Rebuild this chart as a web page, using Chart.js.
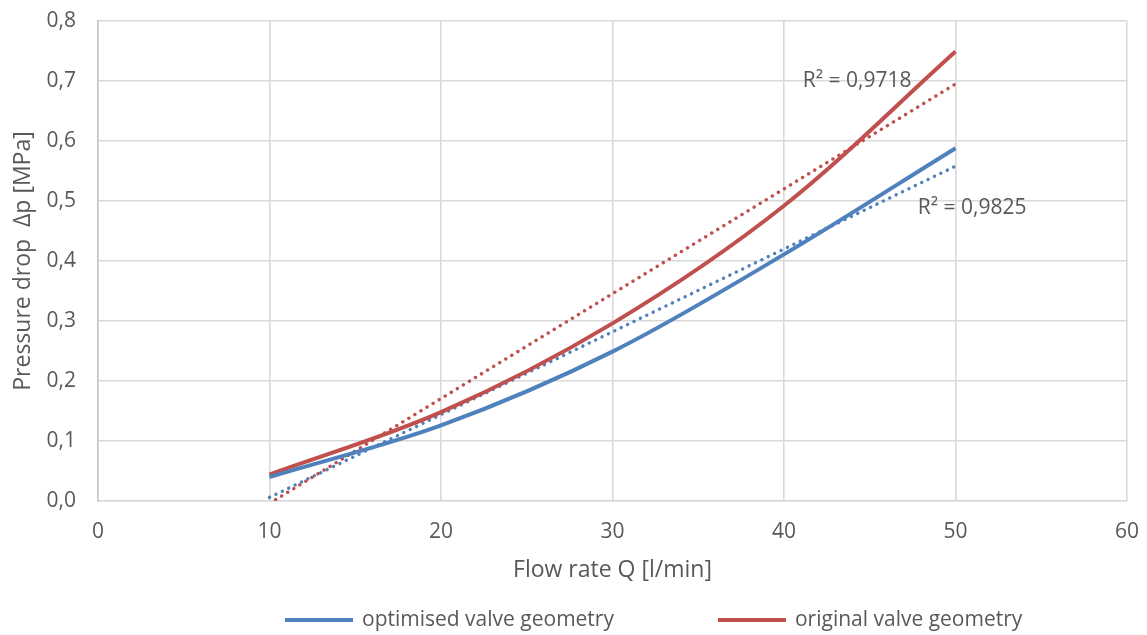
<!DOCTYPE html>
<html>
<head>
<meta charset="utf-8">
<script src="https://cdn.jsdelivr.net/npm/chart.js@4.4.0/dist/chart.umd.min.js"></script>
<style>
  html, body { margin: 0; padding: 0; background: #fff; }
  #wrap { width: 1147px; height: 635px; }
</style>
</head>
<body>
<div id="wrap"><canvas id="pressure-chart" width="1147" height="635"></canvas></div>
<script>
// values
const flowRate = [10, 20, 30, 40, 50];
const optimised = [0.040, 0.126, 0.249, 0.411, 0.588];
const original = [0.044, 0.148, 0.296, 0.492, 0.749];

// linear trendlines (end points)
const trendFlow = [10, 50];
const optimisedTrend = [0.006, 0.558];
const originalTrend = [-0.004, 0.695];

const seriesNames = ['optimised valve geometry', 'original valve geometry'];
const r2Labels = ['R² = 0,9825', 'R² = 0,9718'];
const xTicks = [0, 10, 20, 30, 40, 50, 60];

const BLUE = '#4F81BD';
const RED = '#C0504D';
const GREY = '#595959';
const FONT = '"Open Sans", sans-serif';

const pts = (xs, ys) => xs.map((x, i) => ({ x: x, y: ys[i] }));

// R² text next to the trendlines
const r2Plugin = {
    id: 'r2text',
    afterDatasetsDraw(chart) {
        const { ctx, scales } = chart;
        ctx.save();
        ctx.font = '21px ' + FONT;
        ctx.fillStyle = GREY;
        ctx.textBaseline = 'middle';
        ctx.textAlign = 'left';
        ctx.fillText(r2Labels[1], scales.x.getPixelForValue(41.1), scales.y.getPixelForValue(0.70));
        ctx.fillText(r2Labels[0], scales.x.getPixelForValue(47.8), scales.y.getPixelForValue(0.489));
        ctx.restore();
    }
};

// legend drawn by hand so the gap between the two entries can be wide
const legendPlugin = {
    id: 'wideLegend',
    afterDraw(chart) {
        const ctx = chart.ctx;
        const y = chart.height - 15;
        let x = 285;
        ctx.save();
        ctx.font = '21px ' + FONT;
        ctx.textBaseline = 'middle';
        ctx.textAlign = 'left';
        chart.data.datasets.slice(0, 2).forEach(ds => {
            ctx.strokeStyle = ds.borderColor;
            ctx.lineWidth = 4;
            ctx.beginPath();
            ctx.moveTo(x, y);
            ctx.lineTo(x + 68, y);
            ctx.stroke();
            x += 77;
            ctx.fillStyle = GREY;
            ctx.fillText(ds.label, x, y);
            x += ctx.measureText(ds.label).width + 104;
        });
        ctx.restore();
    }
};

const ctx = document.getElementById('pressure-chart').getContext('2d');
const pressureChart = new Chart(ctx, {
    type: 'line',
    data: {
        datasets: [
            {
                label: seriesNames[0],
                data: pts(flowRate, optimised),
                borderColor: BLUE,
                backgroundColor: BLUE,
                borderWidth: 4,
                pointRadius: 0,
                tension: 0.33
            },
            {
                label: seriesNames[1],
                data: pts(flowRate, original),
                borderColor: RED,
                backgroundColor: RED,
                borderWidth: 4,
                pointRadius: 0,
                tension: 0.33
            },
            {
                label: 'trend1',
                data: pts(trendFlow, optimisedTrend),
                borderColor: BLUE,
                borderWidth: 3.4,
                borderDash: [0.1, 7],
                borderCapStyle: 'round',
                pointRadius: 0
            },
            {
                label: 'trend2',
                data: pts(trendFlow, originalTrend),
                borderColor: RED,
                borderWidth: 3.4,
                borderDash: [0.1, 7],
                borderCapStyle: 'round',
                pointRadius: 0
            }
        ]
    },
    options: {
        responsive: false,
        animation: false,
        layout: { padding: { top: 21, right: 20, left: 10, bottom: 51 } },
        scales: {
            x: {
                type: 'linear',
                min: 0,
                max: 60,
                afterBuildTicks: axis => { axis.ticks = xTicks.map(v => ({ value: v })); },
                afterFit: axis => {
                    axis.height = 83;
                    axis.paddingLeft = 0;
                    axis.paddingRight = 0;
                },
                grid: { color: '#D9D9D9', lineWidth: 1.6, drawTicks: false },
                border: { color: '#D9D9D9', width: 1.6 },
                ticks: { color: GREY, font: { family: FONT, size: 21 }, padding: 18 },
                title: {
                    display: true,
                    text: 'Flow rate Q [l/min]',
                    color: GREY,
                    font: { family: FONT, size: 23 },
                    padding: { top: 12, bottom: 0 }
                }
            },
            y: {
                min: 0,
                max: 0.8,
                afterFit: axis => {
                    axis.width = 88;
                    axis.paddingTop = 0;
                    axis.paddingBottom = 0;
                },
                ticks: {
                    stepSize: 0.1,
                    color: GREY,
                    font: { family: FONT, size: 21 },
                    padding: 22,
                    callback: v => v.toFixed(1).replace('.', ',')
                },
                grid: { color: '#D9D9D9', lineWidth: 1.6, drawTicks: false },
                border: { color: '#C8C8C8', width: 1.6 },
                title: {
                    display: true,
                    text: 'Pressure drop  Δp [MPa]',
                    color: GREY,
                    font: { family: FONT, size: 23 },
                    padding: { top: 0, bottom: 9 }
                }
            }
        },
        plugins: {
            legend: { display: false },
            tooltip: { enabled: false }
        }
    },
    plugins: [r2Plugin, legendPlugin]
});
</script>
</body>
</html>
